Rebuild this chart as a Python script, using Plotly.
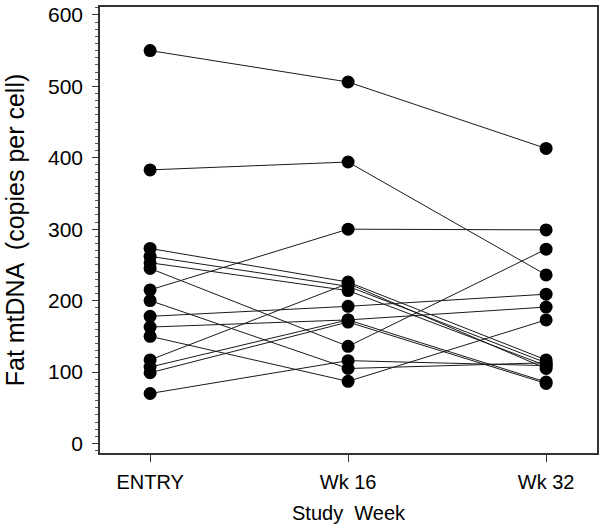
import plotly.graph_objects as go

weeks = ["ENTRY", "Wk 16", "Wk 32"]
week_pos = [0, 1, 2]

entry = [550, 383, 215, 245, 273, 262, 253, 200, 178, 163, 150, 117, 107, 99, 70]
wk16 = [506, 394, 300, 136, 226, 220, 214, 105, 192, 173, 87, 224, 173, 170, 116]
wk32 = [413, 236, 299, 272, 117, 113, 109, 113, 209, 191, 173, 105, 86, 84, 109]

FONT = "Liberation Sans, Arial, Helvetica, sans-serif"

fig = go.Figure()
for e, a, b in zip(entry, wk16, wk32):
    fig.add_trace(go.Scatter(
        x=week_pos, y=[e, a, b], mode="lines+markers",
        line=dict(color="#1a1a1a", width=1),
        marker=dict(color="black", size=13),
        showlegend=False, hoverinfo="skip"))

fig.update_layout(
    width=604, height=531,
    margin=dict(l=100, r=7, t=7, b=78),
    paper_bgcolor="white", plot_bgcolor="white",
    font=dict(family=FONT, color="black"),
)
fig.update_xaxes(
    automargin=False,
    range=[-0.253, 2.257], tickvals=week_pos, ticktext=weeks,
    showgrid=False, zeroline=False,
    showline=True, linecolor="#333", linewidth=1.5, mirror=True,
    ticks="outside", ticklen=7, tickcolor="#333", tickwidth=1,
    tickfont=dict(size=20, family=FONT),
    ticklabelstandoff=3,
    title=dict(text="Study  Week", font=dict(size=20, family=FONT), standoff=14),
)
fig.update_yaxes(
    automargin=False,
    range=[-13.3, 611], tickvals=[0, 100, 200, 300, 400, 500, 600],
    showgrid=False, zeroline=False,
    showline=True, linecolor="#333", linewidth=1.5, mirror=True,
    ticks="outside", ticklen=6, tickcolor="#333", tickwidth=1,
    minor=dict(dtick=10, ticks="outside", ticklen=3, tickcolor="#555", tickwidth=1),
    tickfont=dict(size=21, family=FONT),
    ticklabelstandoff=5,
    title=dict(text="Fat mtDNA  (copies per cell)", font=dict(size=25, family=FONT), standoff=16),
)

fig.write_html("out.html", config={"displayModeBar": False},
               post_script="document.body.style.margin='0';")
